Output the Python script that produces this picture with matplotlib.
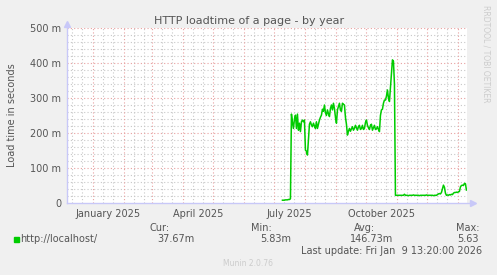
import numpy as np
import pandas as pd
import matplotlib
matplotlib.use("Agg")
import matplotlib.pyplot as plt

# data: daily load time (milliseconds)
start_day = "2025-07-09"
load_ms = [8, 8, 8, 9, 9, 9, 10, 10,
           12,
           254, 230, 213, 240, 251, 213, 254, 208, 228, 204,
           232, 237, 232, 237, 151, 148, 137, 180, 225, 232,
           223, 218, 228, 220, 213, 232, 213, 225, 237, 245,
           251, 268, 262, 280, 258, 250, 266, 255, 247, 270,
           280, 266, 285, 270, 245, 228, 266, 275, 285, 265,
           262, 285, 282, 280, 245, 225, 194, 205, 213, 205,
           212, 218, 208, 213, 222, 215, 208, 218, 222, 210,
           213, 222, 210, 213, 230, 237, 222, 215, 210, 222,
           225, 208, 215, 222, 210, 212, 218, 210, 204, 250,
           266, 268, 285, 294, 294, 305, 323, 300, 290, 330,
           370, 409, 405, 340, 22,
           22, 22, 22, 22, 22, 22, 22, 22,
           25,
           22, 22, 22, 21, 22, 22, 22, 22, 23, 22, 22, 22, 22, 22, 21, 22,
           22, 22, 22, 22, 22, 23, 22, 22, 22, 22, 22, 22, 21, 22, 22, 22,
           24, 26, 27, 26, 30, 40, 51, 45, 28, 22, 23, 22, 24, 23, 25,
           24, 28, 30, 30, 31, 30, 32, 33, 46, 50, 51, 50, 56, 55, 37]
dates = pd.date_range(start_day, periods=len(load_ms), freq="D")

y_ticks = [0, 100, 200, 300, 400, 500]
y_labels = ["0", "100 m", "200 m", "300 m", "400 m", "500 m"]
x_label_dates = pd.to_datetime(["2025-01-16", "2025-04-16", "2025-07-16", "2025-10-16"])
x_labels = ["January 2025", "April 2025", "July 2025", "October 2025"]

t_end = pd.Timestamp("2026-01-09 13:20")
t_start = t_end - pd.Timedelta(days=400)

W, H = 497, 275
bg = "#f0f0f0"
txt = "#555555"
fig = plt.figure(figsize=(W / 100, H / 100), dpi=100, facecolor=bg)
ax = fig.add_axes([67 / W, 72 / H, 400 / W, 175 / H])
ax.set_facecolor("white")

ax.set_xlim(t_start, t_end)
ax.set_ylim(0, 500)

# grid lines
dots = (0, (1, 2))
months = pd.date_range("2024-12-01", "2026-01-31", freq="MS")
for m in months:
    for d in (10, 20):
        t = m + pd.Timedelta(days=d)
        if t_start < t < t_end:
            ax.axvline(t, color="#c8c8c8", lw=0.8, ls=dots, zorder=1)
for yv in np.arange(20, 500, 20):
    if yv % 100:
        ax.axhline(yv, color="#c8c8c8", lw=0.8, ls=dots, zorder=1)
for m in months:
    if t_start < m < t_end:
        ax.axvline(m, color="#e8a0a0", lw=0.8, ls=dots, zorder=2)
for yv in y_ticks[1:]:
    ax.axhline(yv, color="#e8a0a0", lw=0.8, ls=dots, zorder=2)

ax.plot(dates, load_ms, color="#00cc00", lw=1.1, zorder=3)

for s in ax.spines.values():
    s.set_visible(False)
axc = "#c8c8f8"
ax.plot([0, 1.015], [0, 0], transform=ax.transAxes, color=axc, lw=1, clip_on=False, zorder=4)
ax.plot([0, 0], [0, 1.02], transform=ax.transAxes, color=axc, lw=1, clip_on=False, zorder=4)
ax.plot([1.015], [0], transform=ax.transAxes, marker=">", ms=4, color=axc, clip_on=False)
ax.plot([0], [1.025], transform=ax.transAxes, marker="^", ms=4, color=axc, clip_on=False)

ax.set_yticks(y_ticks)
ax.set_yticklabels(y_labels)
ax.set_xticks(x_label_dates)
ax.set_xticklabels(x_labels)
ax.tick_params(length=0, labelsize=7, colors=txt, pad=4)

fig.text(249 / W, 1 - 21 / H, "HTTP loadtime of a page - by year", ha="center", va="center",
         fontsize=8, color=txt)
fig.text(12 / W, 1 - 115 / H, "Load time in seconds", rotation=90, ha="center", va="center",
         fontsize=7, color=txt)
fig.text(486 / W, 1 - 5 / H, "RRDTOOL / TOBI OETIKER", rotation=270, ha="center", va="top",
         fontsize=5.5, color="#cccccc")

def px(x, y, s, ha="left", **kw):
    fig.text(x / W, 1 - y / H, s, ha=ha, va="center", fontsize=7, color=txt, **kw)

fig.patches.append(plt.Rectangle((14 / W, 1 - 242 / H), 5 / W, 5 / H, transform=fig.transFigure,
                                 color="#00cc00", figure=fig))
px(20, 239, "http://localhost/")
px(150, 228, "Cur:")
px(195, 239, "37.67m", ha="right")
px(251, 228, "Min:")
px(291, 239, "5.83m", ha="right")
px(354, 228, "Avg:")
px(393, 239, "146.73m", ha="right")
px(456, 228, "Max:")
px(479, 239, "5.63", ha="right")
px(482, 251, "Last update: Fri Jan  9 13:20:00 2026", ha="right")
fig.text(248 / W, 1 - 263 / H, "Munin 2.0.76", ha="center", va="center", fontsize=5.5, color="#cccccc")

fig.savefig("out.png", dpi=100, facecolor=bg)
